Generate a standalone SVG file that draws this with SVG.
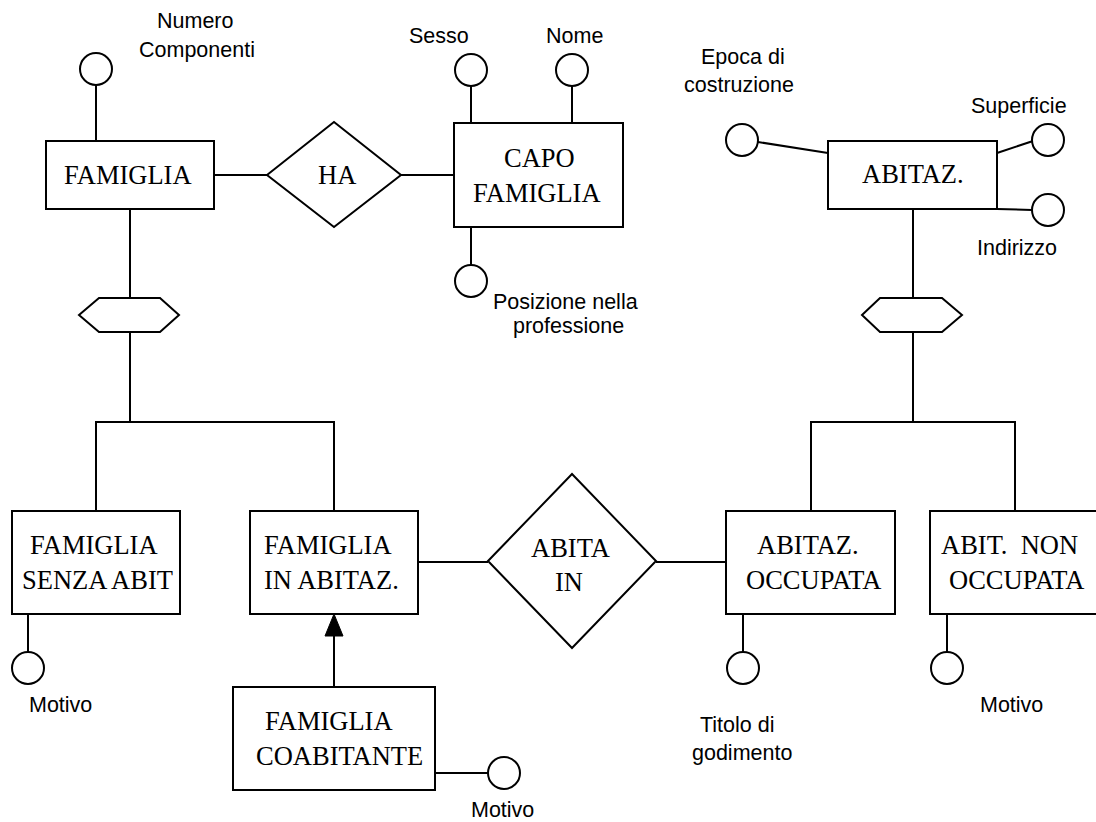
<svg xmlns="http://www.w3.org/2000/svg" width="1096" height="822" viewBox="0 0 1096 822">
<style>
.sh{fill:#fff;stroke:#000;stroke-width:2}
.ln{fill:none;stroke:#000;stroke-width:2}
.at{fill:#fff;stroke:#000;stroke-width:2}
.s{font-family:"Liberation Serif","Times New Roman",serif;font-size:26.5px;fill:#000}
.a{font-family:"Liberation Sans",Arial,sans-serif;font-size:21.5px;fill:#000}
</style>
<rect width="1096" height="822" fill="#fff"/>
<g id="connectors">
<line class="ln" x1="214" y1="175" x2="267" y2="175"/>
<line class="ln" x1="401" y1="175" x2="454" y2="175"/>
<line class="ln" x1="418" y1="562" x2="488" y2="562"/>
<line class="ln" x1="656" y1="562" x2="726" y2="562"/>
<polyline class="ln" points="130,209 130,298"/>
<polyline class="ln" points="130,332 130,422"/>
<polyline class="ln" points="96,511 96,422 334,422 334,511"/>
<polyline class="ln" points="913,209 913,298"/>
<polyline class="ln" points="913,332 913,422"/>
<polyline class="ln" points="811,511 811,422 1015,422 1015,511"/>
<line class="ln" x1="334" y1="635" x2="334" y2="687"/>
<polygon points="334,614 325,636 343,636" fill="#000" stroke="#000" stroke-width="1"/>
<line class="ln" x1="96" y1="85" x2="96" y2="141"/>
<line class="ln" x1="471" y1="86" x2="471" y2="123"/>
<line class="ln" x1="572" y1="86" x2="572" y2="123"/>
<line class="ln" x1="471" y1="227" x2="471" y2="265"/>
<line class="ln" x1="758" y1="142" x2="828" y2="153"/>
<line class="ln" x1="997" y1="153" x2="1033" y2="141"/>
<line class="ln" x1="997" y1="209" x2="1032" y2="210"/>
<line class="ln" x1="28" y1="614" x2="28" y2="652"/>
<line class="ln" x1="743" y1="614" x2="743" y2="652"/>
<line class="ln" x1="947" y1="614" x2="947" y2="652"/>
<line class="ln" x1="435" y1="773" x2="488" y2="773"/>
</g>
<g id="famiglia">
<rect class="sh" x="46" y="141" width="168" height="68"/>
<text class="s" x="64" y="184">FAMIGLIA</text>
</g>
<g id="ha">
<polygon class="sh" points="267,175 334,122 401,175 334,227"/>
<text class="s" x="318" y="184">HA</text>
</g>
<g id="capo-famiglia">
<rect class="sh" x="454" y="123" width="169" height="104"/>
<text class="s" x="504" y="167">CAPO</text>
<text class="s" x="473" y="202">FAMIGLIA</text>
</g>
<g id="abitaz">
<rect class="sh" x="828" y="141" width="169" height="68"/>
<text class="s" x="862" y="183">ABITAZ.</text>
</g>
<g id="gen-famiglia">
<polygon class="sh" points="79,315 99,298 160,298 179,315 160,332 99,332"/>
</g>
<g id="gen-abitaz">
<polygon class="sh" points="862,315 880,298 942,298 962,315 942,332 880,332"/>
</g>
<g id="famiglia-senza-abit">
<rect class="sh" x="12" y="511" width="168" height="103"/>
<text class="s" x="30" y="554">FAMIGLIA</text>
<text class="s" x="22" y="589">SENZA ABIT</text>
</g>
<g id="famiglia-in-abitaz">
<rect class="sh" x="250" y="511" width="168" height="103"/>
<text class="s" x="264" y="554">FAMIGLIA</text>
<text class="s" x="264" y="589">IN ABITAZ.</text>
</g>
<g id="abita-in">
<polygon class="sh" points="488,561 572,474 656,561 572,648"/>
<text class="s" x="531" y="557">ABITA</text>
<text class="s" x="555" y="591">IN</text>
</g>
<g id="abitaz-occupata">
<rect class="sh" x="726" y="511" width="169" height="103"/>
<text class="s" x="757" y="554">ABITAZ.</text>
<text class="s" x="746" y="589">OCCUPATA</text>
</g>
<g id="abit-non-occupata">
<rect class="sh" x="930" y="511" width="170" height="103"/>
<text class="s" x="941" y="554" xml:space="preserve">ABIT.  NON</text>
<text class="s" x="949" y="589">OCCUPATA</text>
</g>
<g id="famiglia-coabitante">
<rect class="sh" x="233" y="687" width="202" height="103"/>
<text class="s" x="265" y="730">FAMIGLIA</text>
<text class="s" x="256" y="765">COABITANTE</text>
</g>
<g id="attr-numero-componenti">
<circle class="at" cx="96" cy="69" r="16"/>
<text class="a" x="157" y="28">Numero</text>
<text class="a" x="139" y="57">Componenti</text>
</g>
<g id="attr-sesso">
<circle class="at" cx="471" cy="70" r="16"/>
<text class="a" x="409" y="43">Sesso</text>
</g>
<g id="attr-nome">
<circle class="at" cx="572" cy="70" r="16"/>
<text class="a" x="546" y="43">Nome</text>
</g>
<g id="attr-posizione">
<circle class="at" cx="471" cy="281" r="16"/>
<text class="a" x="493" y="309">Posizione nella</text>
<text class="a" x="513" y="333">professione</text>
</g>
<g id="attr-epoca">
<circle class="at" cx="742" cy="140" r="16"/>
<text class="a" x="701" y="64">Epoca di</text>
<text class="a" x="684" y="92">costruzione</text>
</g>
<g id="attr-superficie">
<circle class="at" cx="1048" cy="140" r="16"/>
<text class="a" x="971" y="113">Superficie</text>
</g>
<g id="attr-indirizzo">
<circle class="at" cx="1048" cy="210" r="16"/>
<text class="a" x="977" y="255">Indirizzo</text>
</g>
<g id="attr-motivo-senza">
<circle class="at" cx="28" cy="668" r="16"/>
<text class="a" x="29" y="712">Motivo</text>
</g>
<g id="attr-titolo">
<circle class="at" cx="743" cy="668" r="16"/>
<text class="a" x="700" y="732">Titolo di</text>
<text class="a" x="692" y="760">godimento</text>
</g>
<g id="attr-motivo-non">
<circle class="at" cx="947" cy="668" r="16"/>
<text class="a" x="980" y="712">Motivo</text>
</g>
<g id="attr-motivo-coab">
<circle class="at" cx="504" cy="773" r="16"/>
<text class="a" x="471" y="817">Motivo</text>
</g>
</svg>
